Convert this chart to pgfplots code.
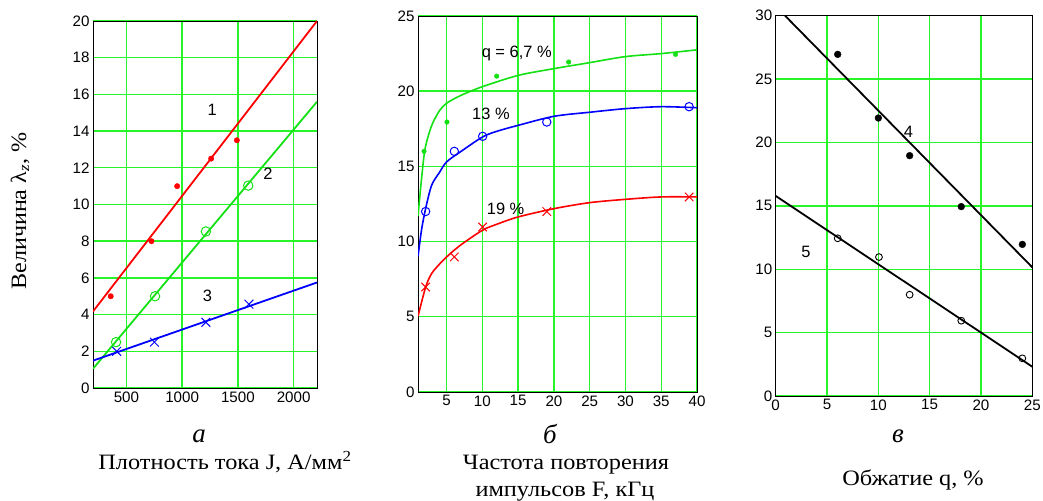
\documentclass[border=0pt]{standalone}
\usepackage{fontspec}
\setmainfont{Liberation Serif}
\newfontfamily\arial{Liberation Sans}
\usepackage{pgfplots}
\pgfplotsset{compat=1.18}
\definecolor{gridgreen}{RGB}{40,245,40}
\definecolor{cgreen}{RGB}{20,225,20}
\definecolor{cred}{RGB}{255,0,0}
\definecolor{cblue}{RGB}{0,0,255}
\pgfplotsset{
  panel/.style={
    scale only axis, anchor=south west,
    axis line style={black, line width=0.8bp},
    grid=major, major grid style={gridgreen, line width=1.4bp},
    major tick length=0pt,
    tick label style={font=\arial\fontsize{15.2}{15.2}\selectfont},
    /pgf/number format/assume math mode=true,
    /pgf/number format/1000 sep={},
  },
}
\tikzset{lbl/.style={font=\arial\fontsize{16.5}{16.5}\selectfont, inner sep=0pt},
  captxt/.style={font=\fontsize{22}{22}\selectfont, anchor=base, transform shape, xscale=1.11}}
\begin{document}
\begin{tikzpicture}[x=1bp,y=1bp]
\path[use as bounding box] (0bp,0bp) rectangle (1043bp,501bp);
% ---------- panel a
\begin{axis}[panel, at={(93bp,113bp)}, width=224bp, height=367bp,
  xmin=200, xmax=2210, ymin=0, ymax=20,
  xtick={500,1000,1500,2000}, ytick={0,2,...,20}]
\addplot[cred, line width=1.8bp] coordinates {(200,4.17) (2210,20.0)};
\addplot[cgreen, line width=1.8bp] coordinates {(200,1.05) (2210,15.6)};
\addplot[cblue, line width=1.8bp] coordinates {(200,1.49) (2210,5.75)};
\addplot[only marks, mark=*, cred, mark size=2.7bp] coordinates {(359,5.0) (725,8.0) (955,11.0) (1260,12.5) (1491,13.5)};
\addplot[only marks, mark=o, cgreen, mark size=4.7bp, line width=1bp] coordinates {(407,2.5) (757,5.0) (1213,8.53) (1593,11.03)};
\addplot[only marks, mark=x, cblue, mark size=6.2bp, line width=1bp] coordinates {(413,2.0) (751,2.5) (1213,3.58) (1599,4.57)};
\node[lbl] at (axis cs:1269,15.15) {1};
\node[lbl] at (axis cs:1769,11.67) {2};
\node[lbl] at (axis cs:1228,5.03) {3};
\end{axis}
% ---------- panel b
\begin{axis}[panel, at={(418bp,109bp)}, width=279bp, height=376bp,
  xmin=1, xmax=40, ymin=0, ymax=25,
  xtick={5,10,...,40}, ytick={0,5,...,25}]
\addplot[cgreen, line width=1.6bp, smooth, tension=0.5] coordinates {(1,11.7) (1.5,14.2) (2,16.2) (2.9,17.7) (4,18.7) (5,19.2) (6.9,19.7) (10,20.3) (15,21.05) (20,21.5) (25,21.9) (30,22.3) (35,22.5) (40,22.75)};
\addplot[cblue, line width=1.6bp, smooth, tension=0.5] coordinates {(1,9) (1.5,10.8) (2.07,12.2) (2.9,13.74) (4,14.6) (5,15.3) (6.9,15.96) (10,16.95) (12,17.33) (15,17.73) (20,18.33) (25,18.6) (30,18.84) (35,18.97) (40,18.9)};
\addplot[cred, line width=1.6bp, smooth, tension=0.5] coordinates {(1,5.03) (2.07,6.98) (2.9,7.87) (4,8.5) (5,8.98) (6.9,9.75) (10,10.75) (12,11.15) (15,11.64) (20,12.19) (25,12.59) (30,12.81) (35,12.97) (40,12.97)};
\addplot[only marks, mark=*, cgreen, mark size=2.3bp] coordinates {(1.84,16.0) (5.05,17.95) (12.0,21.0) (22.06,21.94) (37.0,22.45)};
\addplot[only marks, mark=o, cblue, mark size=4.2bp, line width=1bp] coordinates {(2.07,12.0) (6.08,16.0) (10.04,17.0) (19.0,17.95) (38.9,18.97)};
\addplot[only marks, mark=x, cred, mark size=6bp, line width=1bp] coordinates {(2.07,6.98) (6.08,8.98) (10.04,10.97) (19.0,12.0) (38.9,12.97)};
\node[lbl] at (axis cs:14.8,22.5) {q = 6,7 \%};
\node[lbl] at (axis cs:11.2,18.5) {13 \%};
\node[lbl] at (axis cs:13.25,12.19) {19 \%};
\end{axis}
% ---------- panel c
\begin{axis}[panel, at={(775.7bp,105bp)}, width=256.6bp, height=380.3bp,
  xmin=0, xmax=25, ymin=0, ymax=30,
  xtick={0,5,...,25}, ytick={0,5,...,30}]
\addplot[black, line width=1.8bp] coordinates {(0.91,30) (25,10.15)};
\addplot[black, line width=1.8bp] coordinates {(0,15.78) (25,2.31)};
\addplot[only marks, mark=*, black, mark size=3.4bp] coordinates {(6.04,26.95) (10.0,21.93) (13.05,18.96) (18.08,14.94) (24.03,11.96)};
\addplot[only marks, mark=o, black, mark size=3.4bp, line width=0.9bp] coordinates {(6.04,12.44) (10.06,10.96) (13.05,7.99) (18.08,5.94) (24.03,2.97)};
\node[lbl] at (axis cs:12.92,20.85) {4};
\node[lbl] at (axis cs:2.95,11.33) {5};
\end{axis}
% ---------- captions
\node[font=\fontsize{22}{22}\selectfont, rotate=90, transform shape, xscale=1.1] at (20bp,290bp) {Величина λ\textsubscript{\textit{z}}, \%};
\node[font=\fontsize{27}{27}\selectfont\itshape, anchor=base] at (199bp,58bp) {а};
\node[captxt] at (225bp,32bp) {Плотность тока J, А/мм\textsuperscript{2}};
\node[font=\fontsize{27}{27}\selectfont\itshape, anchor=base] at (550bp,57bp) {б};
\node[captxt] at (566bp,32bp) {Частота повторения};
\node[captxt] at (565bp,5bp) {импульсов F, кГц};
\node[font=\fontsize{27}{27}\selectfont\itshape, anchor=base] at (898bp,58bp) {в};
\node[captxt] at (913bp,16bp) {Обжатие q, \%};
\end{tikzpicture}
\end{document}
